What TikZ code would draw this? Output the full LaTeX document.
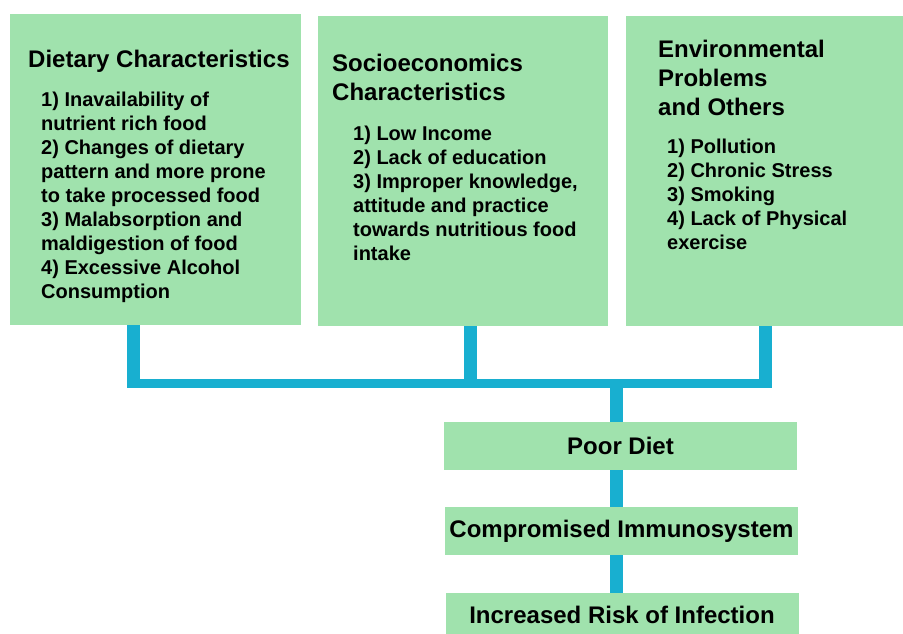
\documentclass[tikz,border=0pt]{standalone}
\usepackage{fontspec}
\setmainfont{Liberation Sans}
\usetikzlibrary{positioning}

\definecolor{boxgreen}{RGB}{160,226,173}
\definecolor{linkcyan}{RGB}{24,175,208}

\begin{document}
\begin{tikzpicture}[x=1pt,y=-1pt]
          \tikzstyle{panel}=[fill=boxgreen, inner sep=0pt, anchor=north west]
          \tikzstyle{heading}=[inner sep=0pt, anchor=base west, align=left, font=\bfseries\fontsize{24}{29}\selectfont]
          \tikzstyle{items}=[inner sep=0pt, anchor=base west, align=left, font=\bfseries\fontsize{20}{24}\selectfont]
          \tikzstyle{result}=[fill=boxgreen, inner sep=0pt, minimum width=353pt, font=\bfseries\fontsize{24}{29}\selectfont]
          \tikzstyle{stem}=[draw=linkcyan, line width=13pt]
          \tikzstyle{bar}=[draw=linkcyan, line width=9pt]
          \useasboundingbox (0,0) rectangle (903,633);
          % the three groups of causes (texts sit on the baseline of their last line)
          \node[panel, minimum width=291pt, minimum height=311pt] (diet) at (10,14) {};
          \node[panel, minimum width=290pt, minimum height=310pt] (socio) at (318,16) {};
          \node[panel, minimum width=277pt, minimum height=310pt] (env) at (626,16) {};
          \node[heading] (dietT) at ([shift={(18,53)}]diet.north west) {Dietary Characteristics};
          \node[items] (dietL) at ([shift={(31,284)}]diet.north west) {1) Inavailability of\\nutrient rich food\\2) Changes of dietary\\pattern and more prone\\to take processed food\\3) Malabsorption and\\maldigestion of food\\4) Excessive Alcohol\\Consumption};
          \node[heading] (socioT) at ([shift={(14,84)}]socio.north west) {Socioeconomics\\Characteristics};
          \node[items] (socioL) at ([shift={(35,244.5)}]socio.north west) {1) Low Income\\2) Lack of education\\3) Improper knowledge,\\attitude and practice\\towards nutritious food\\intake};
          \node[heading] (envT) at ([shift={(32,99)}]env.north west) {Environmental\\Problems\\and Others};
          \node[items] (envL) at ([shift={(41,233)}]env.north west) {1) Pollution\\2) Chronic Stress\\3) Smoking\\4) Lack of Physical\\exercise};
          % the chain of effects
          \node[result, minimum height=48pt] (poor) at (620.5,446) {Poor Diet};
          \node[result, minimum height=48pt] (comp) at (621.5,531) {Compromised Immunosystem};
          \node[result, minimum height=44pt] (risk) at (622,615) {Increased Risk of Infection};
          \coordinate (jA) at (133.5,383.5);
          \coordinate (jB) at (470,383.5);
          \coordinate (jC) at (765,383.5);
          \coordinate (jD) at (616,383.5);
          \draw[stem] (diet.south -| jA) -- ([yshift=-4.5pt]jA);
          \draw[stem] (socio.south -| jB) -- ([yshift=-4.5pt]jB);
          \draw[stem] (env.south -| jC) -- ([yshift=-4.5pt]jC);
          \draw[bar] ([xshift=-6.5pt]jA) -- ([xshift=6.5pt]jC);
          \draw[stem] (jD) -- (poor.north -| jD);
          \draw[stem] (poor.south -| jD) -- (comp.north -| jD);
          \draw[stem] (comp.south -| jD) -- (risk.north -| jD);
      \end{tikzpicture}
\end{document}
